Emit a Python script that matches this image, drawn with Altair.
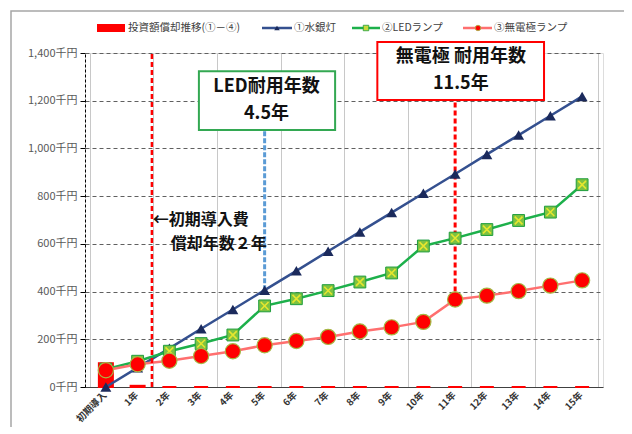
import altair as alt
import pandas as pd

# ---- data ----
labels = ['初期導入', '1年', '2年', '3年', '4年', '5年', '6年', '7年', '8年',
          '9年', '10年', '11年', '12年', '13年', '14年', '15年']
invest = [100, 5, 0, 0, 0, 0, 0, 0, 0, 0, 0, 0, 0, 0, 0, 0]
mercury = [0, 81, 162, 244, 325, 406, 487, 569, 650, 731, 812, 893, 975, 1056, 1137, 1218]
led = [75, 108, 150, 182, 218, 340, 370, 404, 440, 478, 591, 624, 660, 698, 733, 848]
electrodeless = [70, 95, 110, 130, 150, 175, 193, 210, 233, 250, 273, 367, 383, 402, 425, 447]
legend_labels = ['投資額償却推移(①－④)', '①水銀灯', '②LEDランプ', '③無電極ランプ']
y_ticks = [0, 200, 400, 600, 800, 1000, 1200, 1400]

FONT = 'Noto Sans CJK JP'
df = pd.DataFrame({'i': list(range(len(labels))), 'label': labels, 'invest': invest,
                   'mercury': mercury, 'led': led, 'el': electrodeless})

W, H = 518, 334
xs = alt.Scale(domain=[-0.5, len(labels) - 0.5], nice=False, zero=False)
ys = alt.Scale(domain=[0, 1400], nice=False)
grid_vals = [k / 2 - 0.5 for k in range(2 * len(labels) + 1)]

xaxis = alt.Axis(values=grid_vals, labels=False, grid=True, gridColor='#C8C8C8', gridWidth=1,
                 ticks=False, domainColor='#404040', domainWidth=1.2, title=None)
yaxis = alt.Axis(values=y_ticks, labelExpr="format(datum.value, ',') + '千円'", gridDash=[4, 3],
                 gridColor='#606060', gridWidth=1, domainDash=[3, 2], domainColor='#000000',
                 tickColor='#000000', tickSize=5, labelFontSize=11, labelColor='#595959',
                 labelFont=FONT, title=None, labelPadding=3)

base = alt.Chart(df).encode(x=alt.X('i:Q', scale=xs, axis=xaxis))

bars = base.mark_bar(size=14, color='#FF0000', stroke='#FF0000', strokeWidth=2).encode(
    y=alt.Y('invest:Q', scale=ys, axis=yaxis))

xlabels = base.mark_text(angle=315, align='right', baseline='middle', fontWeight='bold', fontSize=9.5,
                         color='#333333', font=FONT, dx=-1, dy=0).encode(
    y=alt.value(H + 6), text='label:N')

m_line = base.mark_line(color='#34508F', strokeWidth=2.5).encode(y='mercury:Q')
m_pts = base.mark_point(shape='triangle-up', filled=True, size=120, color='#1B2A5C', opacity=1).encode(y='mercury:Q')

l_line = base.mark_line(color='#1DB04B', strokeWidth=2.5).encode(y='led:Q')
l_sq = base.mark_square(size=140, fill='#7DC242', stroke='#1E9E3E', strokeWidth=1, opacity=1).encode(y='led:Q')
l_x = base.mark_point(shape='M-1,-1L1,1M1,-1L-1,1', filled=False, size=60, color='#E6E62E',
                      strokeWidth=1.6, opacity=1).encode(y='led:Q')

e_line = base.mark_line(color='#FF6F6F', strokeWidth=2.5).encode(y='el:Q')
e_pts = base.mark_circle(size=230, color='#FF0000', stroke='#A5B845', strokeWidth=1.2, opacity=1).encode(y='el:Q')

one = alt.Chart(alt.Data(values=[{}]))

rule_payback = one.mark_rule(color='#FF0000', strokeWidth=2.5, strokeDash=[5, 3]).encode(
    x=alt.datum(1.45), y=alt.datum(0), y2=alt.datum(1400))
rule_led = one.mark_rule(color='#5B9BD5', strokeWidth=3, strokeDash=[5, 2]).encode(
    x=alt.datum(5), y=alt.datum(mercury[5]), y2=alt.datum(1077))
rule_el = one.mark_rule(color='#FF0000', strokeWidth=3, strokeDash=[5, 3]).encode(
    x=alt.datum(11), y=alt.datum(electrodeless[11]), y2=alt.datum(1203))

box_led = one.mark_rect(fill='white', stroke='#33A852', strokeWidth=2).encode(
    x=alt.datum(2.93), x2=alt.datum(7.22), y=alt.datum(1324), y2=alt.datum(1077))
box_el = one.mark_rect(fill='white', stroke='#FF0000', strokeWidth=2).encode(
    x=alt.datum(8.55), x2=alt.datum(13.8), y=alt.datum(1446), y2=alt.datum(1203))

def ann(txt, x, y, align='center', size=18, dx=0):
    return one.mark_text(font=FONT, fontWeight='bold', fontSize=size, color='#111111', align=align,
                         baseline='middle', dx=dx).encode(x=alt.datum(x), y=alt.datum(y), text=alt.value(txt))

t1 = ann('LED耐用年数', 5.06, 1258)
t2 = ann('4.5年', 5.06, 1145)
t3 = ann('無電極 耐用年数', 11.18, 1383)
t4 = ann('11.5年', 11.18, 1270)
t5 = ann('←初期導入費', 1.48, 700, align='left', size=16)
t6 = ann('償却年数２年', 1.48, 600, align='left', size=16, dx=18)

# ---- outer frame & legend (decoration, pixel positions) ----
frame = one.mark_rect(fillOpacity=0, stroke='#A6A6A6', strokeWidth=1.5).encode(
    x=alt.value(-74), x2=alt.value(542), y=alt.value(-42), y2=alt.value(400))

LY = -25
leg = [
    one.mark_rect(color='#FF0000').encode(x=alt.value(12), x2=alt.value(40), y=alt.value(LY - 4), y2=alt.value(LY + 4)),
    one.mark_rule(color='#34508F', strokeWidth=2.5).encode(x=alt.value(177), x2=alt.value(207), y=alt.value(LY)),
    one.mark_point(shape='triangle-up', filled=True, size=30, color='#1B2A5C', opacity=1).encode(x=alt.value(192), y=alt.value(LY)),
    one.mark_rule(color='#1DB04B', strokeWidth=2.5).encode(x=alt.value(267), x2=alt.value(295), y=alt.value(LY)),
    one.mark_square(size=30, fill='#C8D83A', stroke='#1E9E3E', strokeWidth=0.8, opacity=1).encode(x=alt.value(281), y=alt.value(LY)),
    one.mark_rule(color='#FF6F6F', strokeWidth=2.5).encode(x=alt.value(378), x2=alt.value(407), y=alt.value(LY)),
    one.mark_circle(size=30, color='#FF0000', stroke='#A5B845', strokeWidth=0.8, opacity=1).encode(x=alt.value(393), y=alt.value(LY)),
]
for txt, px in zip(legend_labels, [43, 209, 297, 409]):
    leg.append(one.mark_text(font=FONT, fontSize=10.5, color='#404040', align='left', baseline='middle').encode(
        x=alt.value(px), y=alt.value(LY), text=alt.value(txt)))

chart = alt.layer(
    bars, m_line, l_line, e_line, rule_payback, rule_led, rule_el,
    m_pts, l_sq, l_x, e_pts,
    box_led, box_el, t1, t2, t3, t4, t5, t6, xlabels, frame, *leg
).properties(
    width=W, height=H,
    autosize=alt.AutoSizeParams(type='none'),
    padding={'left': 77, 'top': 45, 'right': 21, 'bottom': 40}
).configure_view(stroke=None).configure(font=FONT)

chart.save('out.html', embed_options={'renderer': 'svg', 'actions': False})
